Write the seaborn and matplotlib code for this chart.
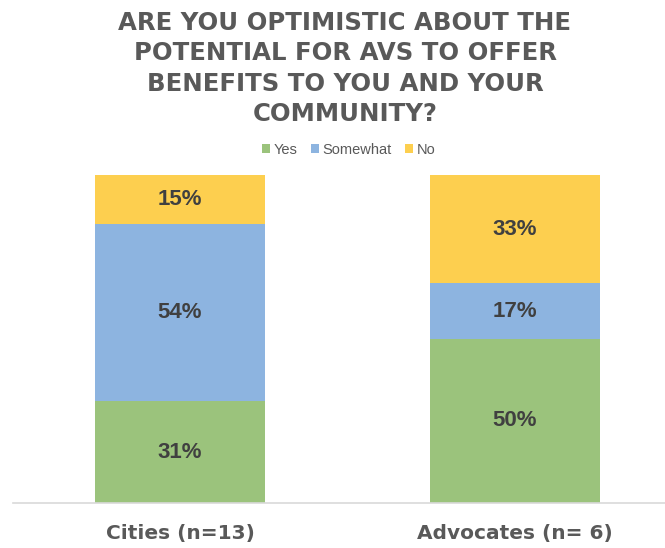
import matplotlib
matplotlib.use("Agg")
import matplotlib.pyplot as plt
from matplotlib.patches import Patch
import seaborn as sns
import pandas as pd
import numpy as np

categories = ["Cities (n=13)", "Advocates (n= 6)"]
series = ["Yes", "Somewhat", "No"]
yes = [31, 50]
somewhat = [54, 17]
no = [15, 33]
colors = {"Yes": "#9BC37C", "Somewhat": "#8DB4E0", "No": "#FDCF4F"}
title = "ARE YOU OPTIMISTIC ABOUT THE\nPOTENTIAL FOR AVS TO OFFER\nBENEFITS TO YOU AND YOUR\nCOMMUNITY?"

sns.set_theme(style="white")
plt.rcParams["font.family"] = ["Liberation Sans", "DejaVu Sans"]

df = pd.DataFrame({"category": categories, "Yes": yes, "Somewhat": somewhat, "No": no})
df["cum_yes"] = df["Yes"]
df["cum_some"] = df["Yes"] + df["Somewhat"]
df["cum_no"] = df["Yes"] + df["Somewhat"] + df["No"]

fig = plt.figure(figsize=(6.65, 5.48), dpi=100)
ax = fig.add_axes([0.0, 45 / 548, 1.0, 328 / 548])

for col, s in [("cum_no", "No"), ("cum_some", "Somewhat"), ("cum_yes", "Yes")]:
    sns.barplot(data=df, x="category", y=col, color=colors[s], width=0.51,
                saturation=1, ax=ax, linewidth=0, order=categories)

# data labels
for i, cat in enumerate(categories):
    bottom = 0
    for s, vals in zip(series, [yes, somewhat, no]):
        v = vals[i]
        ax.text(i, bottom + v / 2, f"{v}%", ha="center", va="center",
                fontsize=16, fontweight="bold", color="#404040")
        bottom += v

ax.set_ylim(0, 100)
x0 = -180 / 335
ax.set_xlim(x0, x0 + 665 / 335)
ax.set_ylabel("")
ax.set_xlabel("")
ax.set_yticks([])
for sp in ["top", "right", "left"]:
    ax.spines[sp].set_visible(False)
ax.spines["bottom"].set_color("#D9D9D9")
ax.spines["bottom"].set_linewidth(1.2)
ax.spines["bottom"].set_bounds(-0.5, 1.5)
ax.tick_params(axis="x", length=0, pad=15)
for lbl in ax.get_xticklabels():
    lbl.set_fontsize(14.5)
    lbl.set_fontweight("bold")
    lbl.set_color("#595959")
    lbl.set_family(["DejaVu Sans"])

fig.text(345 / 665, 1 - 68.5 / 548, title, ha="center", va="center",
         fontsize=17.6, fontweight="bold", color="#595959", linespacing=1.33,
         family=["DejaVu Sans"])

handles = [Patch(facecolor=colors[s], edgecolor="none", label=s) for s in series]
fig.legend(handles=handles, loc="center", bbox_to_anchor=(349 / 665, 1 - 150 / 548),
           ncol=3, frameon=False, fontsize=10.5, handlelength=0.55, handleheight=0.55,
           handletextpad=0.25, columnspacing=0.9, labelcolor="#595959")

fig.savefig("out.png", dpi=100)
